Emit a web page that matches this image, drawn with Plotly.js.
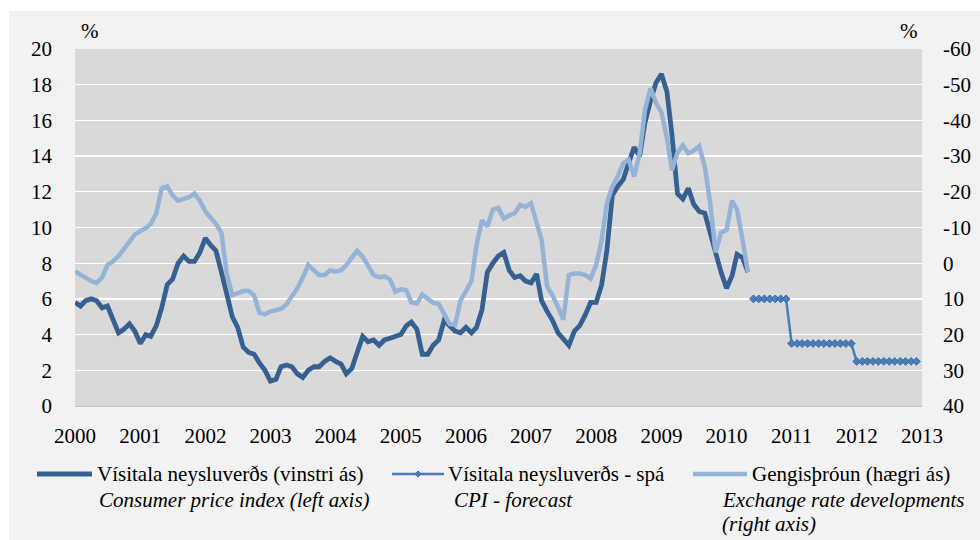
<!DOCTYPE html>
<html>
<head>
<meta charset="utf-8">
<script src="https://cdn.plot.ly/plotly-3.0.1.min.js"></script>
<style>
  body { margin: 0; background: #ffffff; }
  #plot { width: 980px; height: 540px; }
</style>
</head>
<body>
<div id="plot"></div>
<script>
// Consumer price index, 12-month change (%), Jan 2000 - May 2010 (left axis)
let cpi = [
  5.8, 5.6, 5.9, 6.0, 5.9, 5.5, 5.6, 4.8, 4.1, 4.3, 4.6, 4.2,
  3.5, 4.0, 3.9, 4.5, 5.5, 6.8, 7.1, 8.0, 8.4, 8.1, 8.1, 8.6,
  9.4, 9.0, 8.7, 7.5, 6.3, 5.0, 4.4, 3.3, 3.0, 2.9, 2.4, 2.0,
  1.4, 1.5, 2.2, 2.3, 2.2, 1.8, 1.6, 2.0, 2.2, 2.2, 2.5, 2.7,
  2.5, 2.35, 1.8, 2.1, 3.0, 3.9, 3.6, 3.7, 3.4, 3.7, 3.8, 3.9,
  4.0, 4.5, 4.7, 4.3, 2.9, 2.9, 3.4, 3.7, 4.8, 4.5, 4.2, 4.1,
  4.4, 4.1, 4.4, 5.4, 7.5, 8.0, 8.4, 8.6, 7.6, 7.2, 7.3, 7.0,
  6.9, 7.4, 5.9, 5.3, 4.8, 4.1, 3.8, 3.4, 4.2, 4.5, 5.1, 5.8,
  5.8, 6.8, 8.7, 11.8, 12.3, 12.7, 13.6, 14.5, 14.0, 15.9, 17.1, 18.1,
  18.6, 17.6, 15.2, 11.9, 11.6, 12.2, 11.3, 10.9, 10.8, 9.7, 8.6, 7.5,
  6.6, 7.3, 8.5, 8.3, 7.5
];

// Exchange rate developments (%), Jan 2000 - May 2010 (right axis, reversed)
let exchange = [
  2.3, 3.2, 3.9, 5.0, 5.5, 4.0, 0.5, -0.5, -2.0, -4.0, -6.5, -8.0,
  -9.0, -9.8, -11.0, -14.0, -21.0, -21.5, -19.0, -17.5, -18.0, -18.5, -19.5, -17.5,
  -14.5, -12.8, -11.0, -8.5, 3.0, 9.0, 8.5, 7.8, 7.8, 9.0, 14.0, 14.3,
  13.5, 13.2, 12.8, 11.5, 9.5, 7.0, 4.0, 0.5, 2.0, 3.3, 3.3, 2.0,
  2.3, 2.0, 0.5, -1.5, -3.5, -1.8, 1.0, 3.3, 3.9, 3.7, 4.5, 8.0,
  7.3, 7.6, 11.0, 11.3, 8.8, 9.8, 11.1, 11.4, 14.0, 17.0, 17.3, 10.5,
  7.8, 5.0, -5.0, -12.0, -10.3, -15.0, -15.5, -12.5, -13.4, -14.0, -16.3, -15.8,
  -16.8, -11.0, -6.5, 6.5, 9.0, 12.3, 15.8, 3.3, 2.9, 2.9, 3.3, 4.3,
  0.5, -6.5, -16.8, -21.5, -24.3, -28.0, -29.0, -24.3, -30.8, -43.0, -49.0, -45.0,
  -42.3, -35.0, -26.0, -31.0, -33.0, -30.8, -31.5, -32.8, -27.0, -17.0, -3.0, -8.5,
  -9.3, -17.5, -15.0, -6.5, 2.5
];

// CPI forecast (%), Jun 2010 - Dec 2012
let forecast = [
  6.0, 6.0, 6.0, 6.0, 6.0, 6.0, 6.0,
  3.5, 3.5, 3.5, 3.5, 3.5, 3.5, 3.5, 3.5, 3.5, 3.5, 3.5, 3.5,
  2.5, 2.5, 2.5, 2.5, 2.5, 2.5, 2.5, 2.5, 2.5, 2.5, 2.5, 2.5
];

let rightTicks = [-60, -50, -40, -30, -20, -10, 0, 10, 20, 30, 40];

// month strings starting from a given year/month
function months(year, month, n) {
  let out = [];
  for (let i = 0; i < n; i++) {
    let m = month - 1 + i;
    let y = year + Math.floor(m / 12);
    let mm = (m % 12) + 1;
    out.push(y + "-" + (mm < 10 ? "0" + mm : mm) + "-01");
  }
  return out;
}

let histDates = months(2000, 1, cpi.length);
let fcDates = months(2010, 6, forecast.length);

let darkBlue = "#376092";
let midBlue = "#4a7ebb";
let lightBlue = "#95b3d7";

let traceExchange = {
  x: histDates,
  y: exchange,
  yaxis: "y2",
  type: "scatter",
  mode: "lines",
  line: {color: lightBlue, width: 4.5},
  hoverinfo: "skip"
};

let traceCpi = {
  x: histDates,
  y: cpi,
  type: "scatter",
  mode: "lines",
  line: {color: darkBlue, width: 4.8},
  hoverinfo: "skip"
};

let traceForecast = {
  x: fcDates,
  y: forecast,
  type: "scatter",
  mode: "lines+markers",
  line: {color: midBlue, width: 2.5},
  marker: {symbol: "diamond", size: 6, color: midBlue, line: {color: "#3a6aa5", width: 1}},
  hoverinfo: "skip"
};

// plot area in pixels: left 75, right 922, top 49, bottom 406
function px(x) { return (x - 75) / 847; }
function py(y) { return (406 - y) / 357; }

let serif = "Liberation Serif, Times New Roman, serif";
let fs = 21;

function label(text, x, y, italic) {
  return {
    text: italic ? "<i>" + text + "</i>" : text,
    xref: "paper", yref: "paper",
    x: px(x), y: py(y),
    xanchor: "left", yanchor: "middle",
    showarrow: false,
    font: {family: serif, size: fs, color: "#000000"}
  };
}

let annotations = [
  {text: "%", xref: "paper", yref: "paper", x: px(90), y: py(31), xanchor: "center", yanchor: "middle",
   showarrow: false, font: {family: serif, size: fs, color: "#000000"}},
  {text: "%", xref: "paper", yref: "paper", x: px(909), y: py(31), xanchor: "center", yanchor: "middle",
   showarrow: false, font: {family: serif, size: fs, color: "#000000"}},
  label("Vísitala neysluverðs (vinstri ás)", 95, 474, false),
  label("Consumer price index (left axis)", 97, 500, true),
  label("Vísitala neysluverðs - spá", 446, 474, false),
  label("CPI - forecast", 452, 500, true),
  label("Gengisþróun (hægri ás)", 750, 474, false),
  label("Exchange rate developments", 720, 500, true),
  label("(right axis)", 720, 524, true)
];

let shapes = [
  // outer light grey panel
  {type: "rect", xref: "paper", yref: "paper", layer: "below",
   x0: px(9), x1: px(980), y0: py(540), y1: py(11),
   fillcolor: "#f2f2f2", line: {width: 0}},
  // plot area
  {type: "rect", xref: "paper", yref: "paper", layer: "below",
   x0: 0, x1: 1, y0: 0, y1: 1,
   fillcolor: "#d9d9d9", line: {width: 0}},
  // legend samples
  {type: "line", xref: "paper", yref: "paper", x0: px(37), x1: px(92), y0: py(474), y1: py(474),
   line: {color: darkBlue, width: 4.8}},
  {type: "line", xref: "paper", yref: "paper", x0: px(392), x1: px(444), y0: py(474), y1: py(474),
   line: {color: midBlue, width: 2.5}},
  {type: "path", xref: "paper", yref: "paper",
   path: "M " + px(418) + " " + py(471) + " L " + px(421) + " " + py(474) + " L " + px(418) + " " + py(477) +
         " L " + px(415) + " " + py(474) + " Z",
   fillcolor: midBlue, line: {color: "#3a6aa5", width: 1}},
  {type: "line", xref: "paper", yref: "paper", x0: px(693), x1: px(747), y0: py(474), y1: py(474),
   line: {color: lightBlue, width: 4.5}}
];

let layout = {
  width: 980,
  height: 540,
  margin: {l: 75, r: 58, t: 49, b: 134},
  paper_bgcolor: "#ffffff",
  plot_bgcolor: "#d9d9d9",
  showlegend: false,
  font: {family: serif, size: fs, color: "#000000"},
  xaxis: {
    type: "date",
    range: ["2000-01-01", "2013-01-01"],
    dtick: "M12",
    tick0: "2000-01-01",
    tickformat: "%Y",
    showgrid: false,
    zeroline: false,
    showline: true,
    linecolor: "#c4c4c4",
    linewidth: 1,
    ticks: "",
    ticklabelstandoff: 11,
    tickfont: {family: serif, size: fs}
  },
  yaxis: {
    range: [0, 20],
    dtick: 2,
    showgrid: true,
    gridcolor: "#ffffff",
    gridwidth: 1.3,
    zeroline: false,
    showline: false,
    ticks: "",
    ticklabelstandoff: 22,
    tickfont: {family: serif, size: fs}
  },
  yaxis2: {
    overlaying: "y",
    side: "right",
    range: [40, -60],
    tickvals: rightTicks,
    ticktext: rightTicks.map(v => String(v)),
    showgrid: false,
    zeroline: false,
    showline: false,
    ticks: "",
    ticklabelstandoff: 20,
    tickfont: {family: serif, size: fs}
  },
  annotations: annotations,
  shapes: shapes
};

Plotly.newPlot("plot", [traceExchange, traceCpi, traceForecast], layout, {staticPlot: true});
</script>
</body>
</html>
